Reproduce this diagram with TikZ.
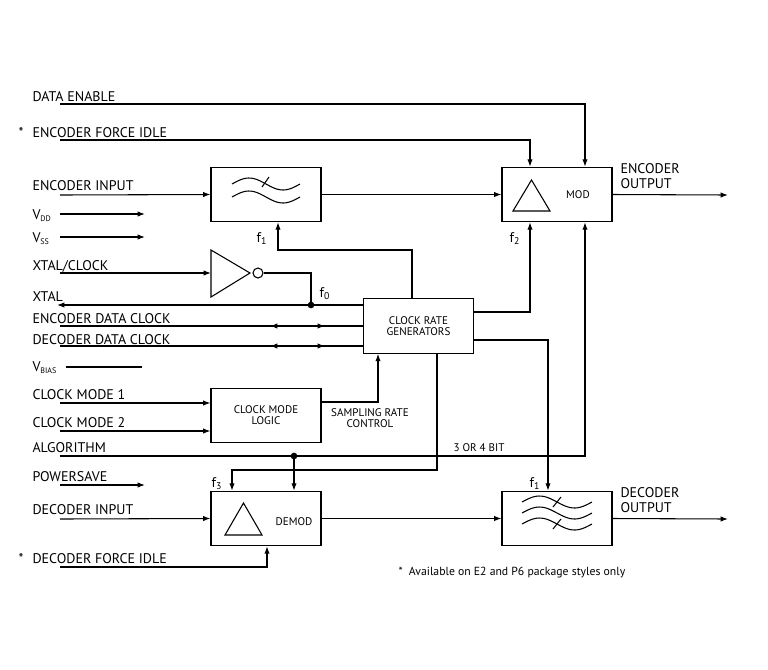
\documentclass[tikz,border=0pt]{standalone}
\usepackage{fontspec}
\setmainfont{PT Sans}
\usetikzlibrary{arrows.meta,calc}
\begin{document}
\begin{tikzpicture}[x=0.75pt,y=-0.75pt,line width=0.8pt,
  ar/.style={-{Latex[length=5.5pt,width=4pt]}},
  lbl/.style={anchor=base west,inner sep=0pt,font=\fontsize{10.5}{12}\selectfont},
  sml/.style={inner sep=0pt,font=\fontsize{8.3}{9}\selectfont,align=center},
  blk/.style={draw,minimum width=82.5pt,minimum height=41pt,inner sep=0pt},
  dot/.style={circle,fill,inner sep=0pt,minimum size=5pt}]
\useasboundingbox (0,0) rectangle (768,669);
% boxes
\node[blk] (flt) at (266,194.5) {};
\node[blk] (mod) at (557,194.5) {};
\node[blk,minimum width=83pt] (clk) at (418.5,326) {};
\node[blk] (cml) at (266,415.5) {};
\node[blk] (dem) at (266,518.5) {};
\node[blk] (dfl) at (557,518.5) {};
\node[sml] (tclk) at (418.5,326) {CLOCK RATE\\[-1pt]GENERATORS};
\node[sml] (tcml) at (266,415) {CLOCK MODE\\[-1pt]LOGIC};
\node[sml] (tmod) at (578,195) {MOD};
\node[sml] (tdem) at (294,522) {DEMOD};
% triangles
\draw (513,211) -- (531.5,180) -- (550,211) -- cycle;
\draw (225,535) -- (243.5,503) -- (262,535) -- cycle;
% filter symbols
\foreach \yy in {184,197} \draw[domain=0:1,samples=30,smooth,variable=\t] plot ({232+68*\t},{\yy-6*sin(360*\t)});
\draw (262,187) -- (269,177);
\foreach \yy in {502,513,524} \draw[domain=0:1,samples=30,smooth,variable=\t] plot ({522+70*\t},{\yy-6*sin(360*\t)});
\draw (553,507) -- (561,497);
\draw (553,529) -- (561,519);
% inverter
\draw (211,250) -- (250,273) -- (211,297) -- cycle;
\node[circle,draw,inner sep=0pt,minimum size=7.5pt] (bub) at (258,273) {};
% labels
\node[lbl] (l1) at (32,101) {DATA ENABLE};
\node[lbl] (l2a) at (18,137) {*};
\node[lbl] (l2) at (32,137) {ENCODER FORCE IDLE};
\node[lbl] (l3) at (32,190) {ENCODER INPUT};
\node[lbl] (l4) at (32,219) {V\textsubscript{\fontsize{6}{6}\selectfont DD}};
\node[lbl] (l5) at (32,242) {V\textsubscript{\fontsize{6}{6}\selectfont SS}};
\node[lbl] (l6) at (32,270) {XTAL/CLOCK};
\node[lbl] (l7) at (32,301) {XTAL};
\node[lbl] (l8) at (32,323) {ENCODER DATA CLOCK};
\node[lbl] (l9) at (32,344) {DECODER DATA CLOCK};
\node[lbl] (l10) at (32,371) {V\textsubscript{\fontsize{6}{6}\selectfont BIAS}};
\node[lbl] (l11) at (32,399) {CLOCK MODE 1};
\node[lbl] (l12) at (32,427) {CLOCK MODE 2};
\node[lbl] (l13) at (32,452) {ALGORITHM};
\node[lbl] (l14) at (32,481) {POWERSAVE};
\node[lbl] (l15) at (32,514) {DECODER INPUT};
\node[lbl] (l16a) at (18,563) {*};
\node[lbl] (l16) at (32,563) {DECODER FORCE IDLE};
\node[lbl] (l17) at (620,173) {ENCODER};
\node[lbl] (l18) at (620,188) {OUTPUT};
\node[lbl] (l19) at (620,497) {DECODER};
\node[lbl] (l20) at (620,512) {OUTPUT};
\node[lbl] (f1a) at (256,242) {f\textsubscript{1}};
\node[lbl] (f2) at (509,242) {f\textsubscript{2}};
\node[lbl] (f0) at (319,297) {f\textsubscript{0}};
\node[lbl] (f3) at (211,487) {f\textsubscript{3}};
\node[lbl] (f1b) at (529,487) {f\textsubscript{1}};
\node[sml] (src) at (370,418) {SAMPLING RATE\\[-1pt]CONTROL};
\node[sml,anchor=base west] (bit) at (453,451) {3 OR 4 BIT};
\node[sml,anchor=base west,font=\fontsize{8.8}{10}\selectfont] (foot) at (398,575) {*\ \ Available on E2 and P6 package styles only};
% connectors
\coordinate (sDE) at (60,104);
\draw[ar] (sDE) -| (mod.north -| 585,0);
\coordinate (sEF) at (60,140);
\draw[ar] (sEF) -| (mod.north -| 530,0);
\coordinate (sEI) at (60,195);
\draw[ar] (sEI) -- (flt.west);
\draw[ar] (flt.east) -- (mod.west);
\coordinate (eo) at (728,195);
\draw[ar] (mod.east) -- (eo);
\coordinate (vdd) at (60,214); \coordinate (vdde) at (145,214);
\draw[ar] (vdd) -- (vdde);
\coordinate (vss) at (60,237); \coordinate (vsse) at (145,237);
\draw[ar] (vss) -- (vsse);
\coordinate (vb) at (66,367); \coordinate (vbe) at (142,367);
\draw (vb) -- (vbe);
\coordinate (ps) at (60,485); \coordinate (pse) at (145,485);
\draw[ar] (ps) -- (pse);
% f1 to filter
\draw[ar] (clk.north -| 412,0) |- (278,250) -- (flt.south -| 278,0);
% f2 to mod
\draw[ar] (clk.east |- 0,312) -| (mod.south -| 530,0);
% inverter
\coordinate (xc) at (60,273);
\draw[ar] (xc) -- (211,273);
\node[dot] (d0) at (311,305) {};
\draw (bub.east) -| (d0.center);
\coordinate (xt) at (57,305);
\draw[ar] (clk.west |- 0,305) -- (xt);
% data clocks
\foreach \yy in {326,346}{
  \draw (60,\yy) -- (clk.west |- 0,\yy);
  \draw[ar] (290,\yy) -- (270,\yy);
  \draw[ar] (305,\yy) -- (325,\yy);
}
% clock mode
\coordinate (cm1) at (60,403); \coordinate (cm2) at (60,431);
\draw[ar] (cm1) -- (cml.west |- 0,403);
\draw[ar] (cm2) -- (cml.west |- 0,431);
\draw[ar] (cml.east |- 0,402) -| (clk.south -| 378,0);
% algorithm
\node[dot] (d1) at (294,456) {};
\coordinate (al) at (60,456);
\draw (al) -- (d1.center);
\draw[ar] (d1.center) -| (mod.south -| 585,0);
\draw[ar] (d1.center) -- (dem.north -| 294,0);
% f3
\draw[ar] (clk.south -| 437,0) |- (232,470) -- (dem.north -| 232,0);
% decoder filter
\draw[ar] (clk.east |- 0,340) -| (dfl.north -| 548,0);
\coordinate (di) at (60,519);
\draw[ar] (di) -- (dem.west);
\draw[ar] (dem.east) -- (dfl.west);
\coordinate (do) at (728,519);
\draw[ar] (dfl.east) -- (do);
\coordinate (dfi) at (60,567);
\draw[ar] (dfi) -| (dem.south -| 267,0);
\end{tikzpicture}
\end{document}
